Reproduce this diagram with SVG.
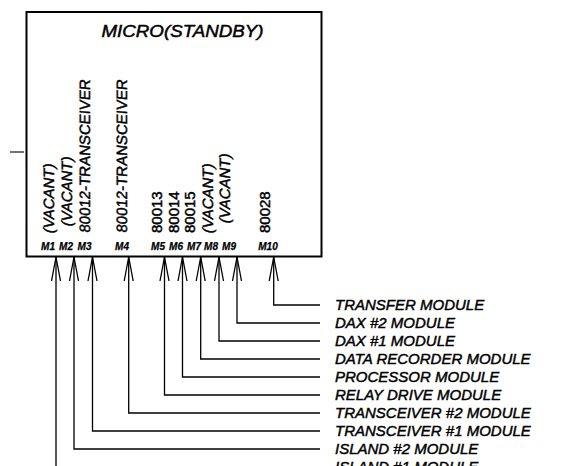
<svg xmlns="http://www.w3.org/2000/svg" width="588" height="466" viewBox="0 0 588 466">
<defs>
<style>
text{font-family:"Liberation Sans",Arial,sans-serif;font-style:italic;fill:#000;stroke:#000;stroke-width:0.45}
.title{font-size:16px}
.vt{font-size:15px;font-style:normal}
.ml{font-size:10px;font-weight:bold;text-anchor:middle;stroke-width:0.25}
.lbl{font-size:15px}
.box{fill:#fff;stroke:#000;stroke-width:2}
.conn{fill:none;stroke:#000;stroke-width:1.3}
</style>
<marker id="ah" markerUnits="userSpaceOnUse" markerWidth="30" markerHeight="12" refX="0" refY="0" viewBox="-26 -6 28 12" orient="auto" overflow="visible">
<path d="M-24,-4.5 L0,0 L-24,4.5" fill="none" stroke="#000" stroke-width="1.3"/>
</marker>
</defs>
<rect width="588" height="466" fill="#fff"/>
<line x1="10" y1="152" x2="24" y2="152" stroke="#444" stroke-width="1.5"/>
<g id="micro">
<rect class="box" x="26.5" y="12" width="295" height="244.5"/>
<text class="title" x="182.5" y="36.5" text-anchor="middle" textLength="162" lengthAdjust="spacingAndGlyphs">MICRO(STANDBY)</text>
<text class="vt" transform="translate(54,234) rotate(-90) skewX(-10)">(VACANT)</text>
<text class="vt" transform="translate(71.5,227) rotate(-90) skewX(-10)">(VACANT)</text>
<text class="vt" transform="translate(90,233) rotate(-90) skewX(-6)">80012-TRANSCEIVER</text>
<text class="vt" transform="translate(126.5,233) rotate(-90) skewX(-6)">80012-TRANSCEIVER</text>
<text class="vt" transform="translate(161.5,233) rotate(-90)">80013</text>
<text class="vt" transform="translate(178.5,233) rotate(-90)">80014</text>
<text class="vt" transform="translate(195,233) rotate(-90)">80015</text>
<text class="vt" transform="translate(212.5,234) rotate(-90) skewX(-10)">(VACANT)</text>
<text class="vt" transform="translate(229.5,224) rotate(-90) skewX(-10)">(VACANT)</text>
<text class="vt" transform="translate(270,233) rotate(-90)">80028</text>
<text class="ml" x="48" y="250">M1</text>
<text class="ml" x="66" y="250">M2</text>
<text class="ml" x="84.5" y="250">M3</text>
<text class="ml" x="122" y="250">M4</text>
<text class="ml" x="158" y="250">M5</text>
<text class="ml" x="176" y="250">M6</text>
<text class="ml" x="194" y="250">M7</text>
<text class="ml" x="211" y="250">M8</text>
<text class="ml" x="229" y="250">M9</text>
<text class="ml" x="268" y="250">M10</text>
</g>
<g id="connectors">
<path class="conn" marker-end="url(#ah)" d="M320,305 H273.7 V257"/>
<path class="conn" marker-end="url(#ah)" d="M320,323 H237 V257"/>
<path class="conn" marker-end="url(#ah)" d="M320,341 H219 V257"/>
<path class="conn" marker-end="url(#ah)" d="M320,359 H200.7 V257"/>
<path class="conn" marker-end="url(#ah)" d="M320,377 H182.5 V257"/>
<path class="conn" marker-end="url(#ah)" d="M320,395 H164.5 V257"/>
<path class="conn" marker-end="url(#ah)" d="M320,413 H128.7 V257"/>
<path class="conn" marker-end="url(#ah)" d="M320,431 H92.5 V257"/>
<path class="conn" marker-end="url(#ah)" d="M320,449 H74 V257"/>
<path class="conn" marker-end="url(#ah)" d="M320,467 H56 V257"/>
</g>
<g id="m10-transfer"><text class="lbl" x="335" y="310">TRANSFER MODULE</text></g>
<g id="m9-dax2"><text class="lbl" x="335" y="328">DAX #2 MODULE</text></g>
<g id="m8-dax1"><text class="lbl" x="335" y="346">DAX #1 MODULE</text></g>
<g id="m7-datarec"><text class="lbl" x="335" y="364">DATA RECORDER MODULE</text></g>
<g id="m6-processor"><text class="lbl" x="335" y="382">PROCESSOR MODULE</text></g>
<g id="m5-relay"><text class="lbl" x="335" y="400">RELAY DRIVE MODULE</text></g>
<g id="m4-trans2"><text class="lbl" x="335" y="418">TRANSCEIVER #2 MODULE</text></g>
<g id="m3-trans1"><text class="lbl" x="335" y="436">TRANSCEIVER #1 MODULE</text></g>
<g id="m2-island2"><text class="lbl" x="335" y="454">ISLAND #2 MODULE</text></g>
<g id="m1-island1"><text class="lbl" x="335" y="472">ISLAND #1 MODULE</text></g>
</svg>
